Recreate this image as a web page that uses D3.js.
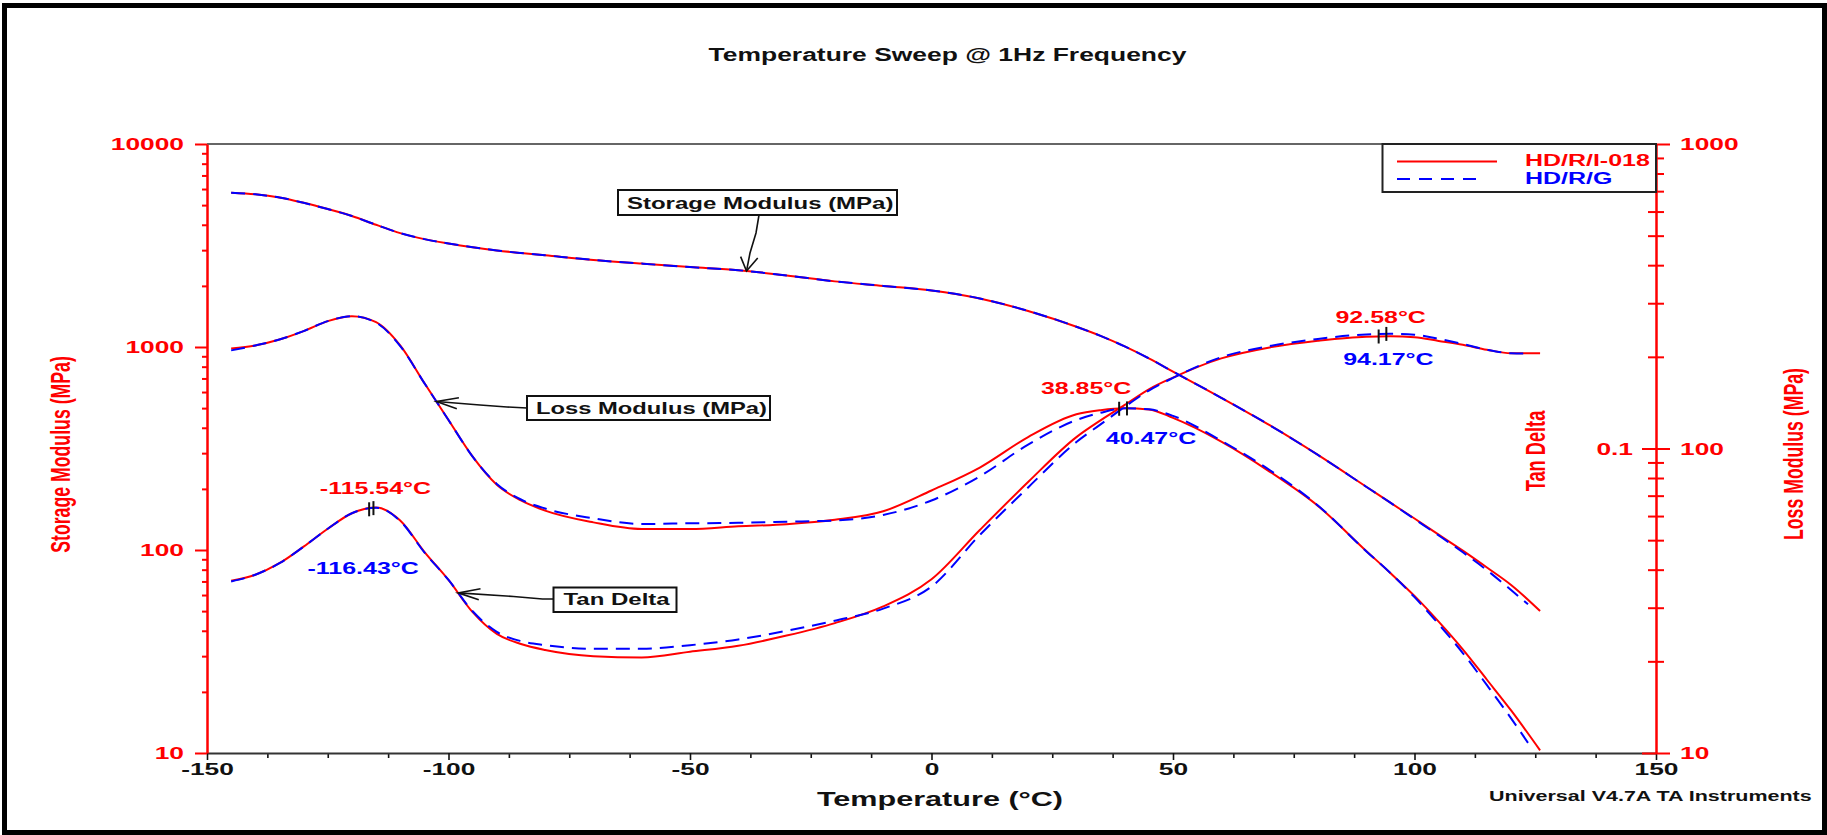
<!DOCTYPE html>
<html>
<head>
<meta charset="utf-8">
<script src="https://cdn.jsdelivr.net/npm/d3@7"></script>
<style>
  html, body { margin: 0; padding: 0; background: #fff; }
  svg { display: block; }
  text { font-family: "Liberation Sans", Arial, sans-serif; font-weight: bold; }
</style>
</head>
<body>
<svg id="chart" width="1827" height="835"></svg>
<script>
// ---- Temperature sweep data (DMA, 1 Hz) ----
const tempI018 = [-145,-140,-135,-130,-125,-120,-115,-110,-105,-100,-95,-90,-85,-80,-70,-60,-50,-40,-30,-20,-10,0,10,20,30,35,40,45,50,60,70,80,90,95,100,105,110,115,120,126];
const tempG    = [-145,-140,-135,-130,-125,-120,-115,-110,-105,-100,-95,-90,-85,-80,-70,-60,-50,-40,-30,-20,-10,0,10,20,30,35,40,45,50,60,70,80,90,95,100,105,110,115,120,123.5];

// Storage modulus E' (MPa)
const storageI018 = [5750,5650,5450,5130,4780,4420,4000,3640,3400,3235,3100,2990,2905,2830,2685,2575,2475,2390,2250,2105,2000,1900,1735,1505,1259,1135,1007,879,757,562,412,294,205,171,143,119,99.3,82,67.3,50.1];
const storageG    = [5750,5650,5450,5130,4780,4420,4000,3640,3400,3235,3100,2990,2905,2830,2685,2575,2475,2390,2250,2105,2000,1900,1735,1505,1259,1135,1007,879,757,562,412,294,205,171,142,118,97.5,79.5,63.5,54];

// Loss modulus E'' (MPa)
const lossI018 = [213,218,228,243,262,272,260,218,164,124,94,76,67.5,62.5,57.2,54.4,54.4,55.5,56.4,58.3,62.2,72.8,86.6,109,129.5,133.6,135.5,134.4,126,105.3,84,64.8,46.1,39,32.8,27,21.9,17.4,13.8,10.2];
const lossG    = [210,218,228,243,262,272,259,217,164,124,94,76.5,68,63.5,59,56.5,56.8,57,57.5,58,60.5,67.5,81,103,124,131,135.5,134.5,128,106,85,65,46,39,32.5,26.5,21.3,16.7,13.0,10.8];

// Tan delta
const tanI018 = [0.0368,0.0385,0.0420,0.0476,0.0545,0.0613,0.0640,0.0580,0.0458,0.0370,0.0290,0.0246,0.0228,0.0218,0.0208,0.0206,0.0215,0.0225,0.0243,0.0267,0.0303,0.0372,0.0540,0.0776,0.1090,0.1237,0.1390,0.1565,0.1710,0.1977,0.2148,0.2260,0.2330,0.2335,0.2320,0.2255,0.2190,0.2110,0.2055,0.2054];
const tanG    = [0.0366,0.0385,0.0420,0.0476,0.0545,0.0613,0.0639,0.0578,0.0456,0.0370,0.0292,0.0250,0.0233,0.0226,0.0220,0.0220,0.0226,0.0236,0.0252,0.0272,0.0298,0.0352,0.0520,0.0745,0.1050,0.1200,0.1370,0.1550,0.1705,0.1995,0.2170,0.2290,0.2370,0.2380,0.2365,0.2290,0.2205,0.2110,0.2055,0.2050];

// Sample names
const sampleNames = ["HD/R/I-018", "HD/R/G"];

// Peak temperatures (°C) reported on the curves
const peakSeries = ["tan", "tan", "loss", "loss", "tan", "tan"];
const peakSample = [0, 1, 0, 1, 0, 1];
const peakTemps  = [-115.54, -116.43, 38.85, 40.47, 92.58, 94.17];

// Axis ticks
const tempTicks     = [-150, -100, -50, 0, 50, 100, 150];
const storageTicks  = [10, 100, 1000, 10000];
const lossTicks     = [10, 100, 1000];
const tanTicks      = [0.01, 0.1, 1];
const tanTickLabels = [0.1];

// ---- Layout ----
const svg = d3.select("#chart");
const plot = { left: 207, right: 1656, top: 144, bottom: 753 };
const S = 1.55;               // horizontal glyph stretch used by the instrument printout
const RED = "#ff0000", BLUE = "#0000ff", INK = "#111";
const sampleColors = [RED, BLUE];
const sampleDash = [null, "14,8"];
const plainNumber = d => String(d);   // hyphen-minus, as printed by the instrument

const x = d3.scaleLinear().domain([-150, 150]).range([plot.left, plot.right]);
const yStorage = d3.scaleLog().domain([10, 10000]).range([plot.bottom, plot.top]);
const yLoss = d3.scaleLog().domain([10, 1000]).range([plot.bottom, plot.top]);
const yTan = d3.scaleLog().domain([0.01, 1]).range([plot.bottom, plot.top]);

const temps = [tempI018, tempG];
const series = {
  storage: { scale: yStorage, values: [storageI018, storageG] },
  loss:    { scale: yLoss,    values: [lossI018, lossG] },
  tan:     { scale: yTan,     values: [tanI018, tanG] }
};

// log-linear interpolation of a series at temperature t
function valueAt(ts, vs, t) {
  let i = d3.bisectRight(ts, t) - 1;
  i = Math.max(0, Math.min(ts.length - 2, i));
  const f = (t - ts[i]) / (ts[i + 1] - ts[i]);
  return Math.pow(10, Math.log10(vs[i]) + f * (Math.log10(vs[i + 1]) - Math.log10(vs[i])));
}

// stretched text helper
function sText(parent, str, px, py, o) {
  const g = parent.append("g")
    .attr("transform", `translate(${px},${py}) scale(${o.sx ?? S},1)` + (o.rotate ? ` rotate(${o.rotate})` : ""));
  return g.append("text")
    .attr("text-anchor", o.anchor || "start")
    .attr("font-size", o.size)
    .attr("fill", o.fill || INK)
    .text(str);
}

function logMinors(domain) {
  const out = [];
  for (let d = domain[0]; d < domain[1] * 0.999; d *= 10)
    for (let m = 2; m <= 9; m++) out.push(d * m);
  return out;
}

// ---- Plot top border ----
svg.append("line")
  .attr("x1", plot.left).attr("x2", plot.right)
  .attr("y1", plot.top).attr("y2", plot.top)
  .attr("stroke", "#333").attr("stroke-width", 1.6);

// ---- X axis ----
const xMinor = d3.range(-150, 150.01, 12.5).filter(v => v % 50 !== 0);
const gxMinor = svg.append("g").attr("transform", `translate(0,${plot.bottom})`)
  .call(d3.axisBottom(x).tickValues(xMinor).tickSize(5).tickSizeOuter(0).tickFormat(""));
gxMinor.select(".domain").remove();
gxMinor.selectAll(".tick line").attr("stroke", INK).attr("stroke-width", 1.6);

const gx = svg.append("g").attr("transform", `translate(0,${plot.bottom})`)
  .call(d3.axisBottom(x).tickValues(tempTicks).tickSize(7).tickSizeOuter(0).tickFormat(plainNumber));
gx.select(".domain").attr("stroke", "#333").attr("stroke-width", 2);
gx.selectAll(".tick line").attr("stroke", INK).attr("stroke-width", 1.6);
gx.selectAll(".tick text")
  .attr("y", 22).attr("dy", null)
  .attr("font-size", 17).attr("font-family", null).attr("fill", INK)
  .attr("transform", `scale(${S},1)`);

// ---- Left axis (storage modulus) ----
const gl = svg.append("g").attr("transform", `translate(${plot.left},0)`);
gl.call(d3.axisLeft(yStorage).tickValues(logMinors([10, 10000])).tickSize(5).tickSizeOuter(0).tickFormat(""));
gl.select(".domain").remove();
gl.selectAll(".tick line").attr("stroke", RED).attr("stroke-width", 2);
const gl2 = svg.append("g").attr("transform", `translate(${plot.left},0)`)
  .call(d3.axisLeft(yStorage).tickValues(storageTicks).tickSize(12).tickSizeOuter(0).tickFormat(plainNumber));
gl2.select(".domain").attr("stroke", RED).attr("stroke-width", 2.5);
gl2.selectAll(".tick line").attr("stroke", RED).attr("stroke-width", 2);
gl2.selectAll(".tick text")
  .attr("x", -23 / S).attr("dy", "0.35em")
  .attr("font-size", 17).attr("font-family", null).attr("fill", RED)
  .attr("transform", `scale(${S},1)`);

// ---- Right axes (loss modulus outside, tan delta inside) ----
const gr = svg.append("g").attr("transform", `translate(${plot.right},0)`);
gr.call(d3.axisRight(yLoss).tickValues(logMinors([10, 1000])).tickSize(8).tickSizeOuter(0).tickFormat(""));
gr.select(".domain").remove();
gr.selectAll(".tick line").attr("stroke", RED).attr("stroke-width", 2);

const gt = svg.append("g").attr("transform", `translate(${plot.right},0)`);
gt.call(d3.axisLeft(yTan).tickValues(logMinors([0.01, 1])).tickSize(8).tickSizeOuter(0).tickFormat(""));
gt.select(".domain").remove();
gt.selectAll(".tick line").attr("stroke", RED).attr("stroke-width", 2);

const gt2 = svg.append("g").attr("transform", `translate(${plot.right},0)`)
  .call(d3.axisLeft(yTan).tickValues(tanTicks).tickSize(14).tickSizeOuter(0)
    .tickFormat(d => tanTickLabels.includes(d) ? String(d) : ""));
gt2.select(".domain").remove();
gt2.selectAll(".tick line").attr("stroke", RED).attr("stroke-width", 2);
gt2.selectAll(".tick text")
  .attr("x", -23 / S).attr("dy", "0.35em")
  .attr("font-size", 17).attr("font-family", null).attr("fill", RED)
  .attr("transform", `scale(${S},1)`);

const gr2 = svg.append("g").attr("transform", `translate(${plot.right},0)`)
  .call(d3.axisRight(yLoss).tickValues(lossTicks).tickSize(14).tickSizeOuter(0).tickFormat(plainNumber));
gr2.select(".domain").attr("stroke", RED).attr("stroke-width", 2.5);
gr2.selectAll(".tick line").attr("stroke", RED).attr("stroke-width", 2);
gr2.selectAll(".tick text")
  .attr("x", 24 / S).attr("dy", "0.35em")
  .attr("font-size", 17).attr("font-family", null).attr("fill", RED)
  .attr("transform", `scale(${S},1)`);

// ---- Curves: solid sample first, dashed sample on top ----
const curves = svg.append("g").attr("fill", "none");
[0, 1].forEach(s => {
  Object.keys(series).forEach(key => {
    const def = series[key];
    const pts = temps[s].map((t, i) => [t, def.values[s][i]]);
    const line = d3.line().x(d => x(d[0])).y(d => def.scale(d[1])).curve(d3.curveMonotoneX);
    curves.append("path")
      .attr("d", line(pts))
      .attr("stroke", sampleColors[s])
      .attr("stroke-width", 2)
      .attr("stroke-dasharray", sampleDash[s])
      .attr("stroke-linejoin", "round");
  });
});

// ---- Peak markers and labels ----
const peakLabelOffset = [[2, -14], [-6, 65], [-33, -15], [24, 36], [2, -13], [2, 31]];
const marks = svg.append("g");
peakTemps.forEach((t, i) => {
  const def = series[peakSeries[i]];
  const s = peakSample[i];
  const px = x(t);
  const py = def.scale(valueAt(temps[s], def.values[s], t));
  marks.append("line")
    .attr("x1", px).attr("x2", px)
    .attr("y1", py - 7).attr("y2", py + 7)
    .attr("stroke", INK).attr("stroke-width", 2);
  sText(marks, t.toFixed(2) + "°C", px + peakLabelOffset[i][0], py + peakLabelOffset[i][1],
    { size: 16, anchor: "middle", fill: sampleColors[s], sx: 1.56 });
});

// ---- Callout boxes with arrows ----
function arrowHead(tip, from, len, ang) {
  const ux = (from[0] - tip[0]) / S, uy = from[1] - tip[1];
  const n = Math.hypot(ux, uy);
  const a = Math.atan2(uy / n, ux / n);
  return [-1, 1].map(sg => [tip[0] + Math.cos(a + sg * ang) * len * S, tip[1] + Math.sin(a + sg * ang) * len]);
}

function callout(label, box, textPos, sx, path, tipSeries, tipTemp) {
  const g = svg.append("g");
  const def = series[tipSeries];
  const tip = [x(tipTemp), def.scale(valueAt(temps[0], def.values[0], tipTemp))];
  const pts = path.concat([tip]);
  g.append("path").attr("d", d3.line()(pts)).attr("fill", "none").attr("stroke", INK).attr("stroke-width", 1.6);
  const arms = arrowHead(tip, pts[pts.length - 2], 15, 0.38);
  g.append("path").attr("d", d3.line()([arms[0], tip, arms[1]]))
    .attr("fill", "none").attr("stroke", INK).attr("stroke-width", 1.6);
  g.append("rect")
    .attr("x", box[0]).attr("y", box[1]).attr("width", box[2]).attr("height", box[3])
    .attr("fill", "#fff").attr("stroke", INK).attr("stroke-width", 2);
  sText(g, label, textPos[0], textPos[1], { size: 16, sx: sx });
}

callout("Storage Modulus (MPa)", [618, 190, 279, 25], [627, 208.5], 1.50,
  [[759, 215], [756, 233], [750, 253]], "storage", -38.3);
callout("Loss Modulus (MPa)", [527, 396, 243, 24], [536, 414], 1.485,
  [[527, 408], [507, 407], [480, 405]], "loss", -102.5);
callout("Tan Delta", [553.5, 587.5, 123, 24.5], [563.5, 604.5], 1.50,
  [[553.5, 599], [542.5, 599], [513.5, 596.5]], "tan", -98);

// ---- Legend ----
const lg = svg.append("g");
lg.append("rect")
  .attr("x", 1382.5).attr("y", plot.top).attr("width", plot.right - 1382.5).attr("height", 48)
  .attr("fill", "#fff").attr("stroke", "#222").attr("stroke-width", 2);
sampleNames.forEach((name, i) => {
  const ly = plot.top + 17.5 + i * 17.5;
  lg.append("line")
    .attr("x1", 1397).attr("x2", i === 0 ? 1497 : 1476)
    .attr("y1", ly).attr("y2", ly)
    .attr("stroke", sampleColors[i]).attr("stroke-width", 2)
    .attr("stroke-dasharray", i === 0 ? null : "13,9");
  sText(lg, name, 1525, ly + 4.8, { size: 16, fill: sampleColors[i], sx: 1.56 });
});

// ---- Titles ----
sText(svg, "Temperature Sweep @ 1Hz Frequency", 947.5, 61, { size: 18, anchor: "middle", sx: 1.47 });
sText(svg, "Temperature (°C)", 940, 806, { size: 20, anchor: "middle", sx: 1.53 });
sText(svg, "Universal V4.7A TA Instruments", 1489, 800.5, { size: 14, sx: 1.535 });
sText(svg, "Storage Modulus (MPa)", 70, 454.5, { size: 17.7, anchor: "middle", fill: RED, rotate: -90 });
sText(svg, "Tan Delta", 1544.5, 451, { size: 18.2, anchor: "middle", fill: RED, rotate: -90 });
sText(svg, "Loss Modulus (MPa)", 1802.5, 454, { size: 17.7, anchor: "middle", fill: RED, rotate: -90 });

// ---- Outer frame ----
svg.append("rect")
  .attr("x", 4.5).attr("y", 5.5).attr("width", 1820).attr("height", 827)
  .attr("fill", "none").attr("stroke", "#000").attr("stroke-width", 5);
</script>
</body>
</html>
